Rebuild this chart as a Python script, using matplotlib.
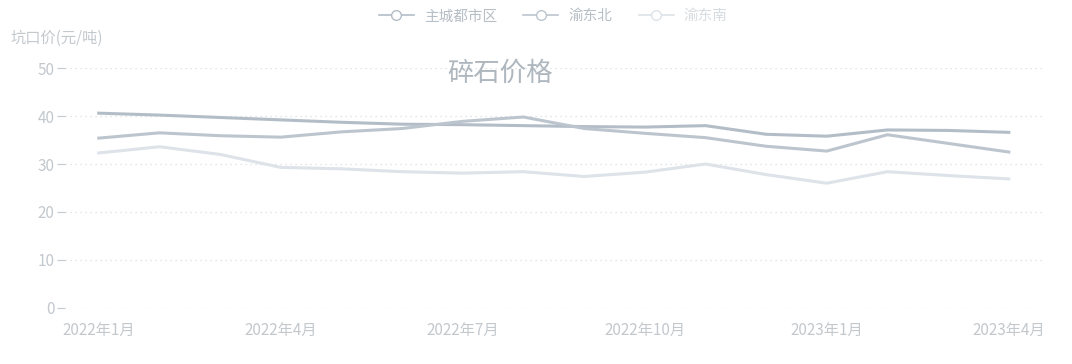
# coding=utf-8

import numpy as np
import matplotlib
matplotlib.use('Agg')
import matplotlib.pyplot as plt

plt.rcParams['font.family'] = ['Noto Sans CJK SC', 'DejaVu Sans']

# monthly pithead price of crushed stone, Jan 2022 .. Apr 2023
months = ['2022年1月', '2022年2月', '2022年3月', '2022年4月', '2022年5月', '2022年6月',
          '2022年7月', '2022年8月', '2022年9月', '2022年10月', '2022年11月', '2022年12月',
          '2023年1月', '2023年2月', '2023年3月', '2023年4月']

zhucheng = [40.6, 40.2, 39.7, 39.2, 38.7, 38.3, 38.2, 38.0,
            37.8, 37.7, 38.0, 36.2, 35.8, 37.1, 37.0, 36.6]
yudongbei = [35.4, 36.5, 35.9, 35.6, 36.7, 37.4, 38.9, 39.8,
             37.4, 36.4, 35.5, 33.7, 32.7, 36.1, 34.3, 32.5]
yudongnan = [32.3, 33.6, 32.0, 29.3, 29.0, 28.4, 28.1, 28.4,
             27.4, 28.3, 30.0, 27.8, 26.0, 28.4, 27.6, 26.9]

series_names = ['主城都市区', '渝东北', '渝东南']
y_ticks = [0, 10, 20, 30, 40, 50]

TEXT_COLOR = '#c3c8cd'
LINE_COLORS = ['#b3bdc7', '#bcc5ce', '#dde3e8']

fig = plt.figure(figsize=(10.72, 3.64), dpi=100)
ax = fig.add_axes([0.061, 0.154, 0.914, 0.659])

x = np.arange(len(months))
for values, name, color in zip([zhucheng, yudongbei, yudongnan], series_names, LINE_COLORS):
    ax.plot(x, values, color=color, linewidth=2.2, label=name,
            marker='o', markersize=7, markerfacecolor='white',
            markeredgecolor=color, markevery=[])

ax.set_xlim(-0.55, 15.6)
ax.set_ylim(0, 50)
ax.set_yticks(y_ticks)
ax.set_xticks(x[::3])
ax.set_xticklabels(months[::3])

ax.grid(axis='y', color='#d9dde1', linestyle=(0, (1, 3)), linewidth=0.9)
ax.set_axisbelow(True)
for side in ['top', 'right', 'left', 'bottom']:
    ax.spines[side].set_visible(False)

ax.tick_params(axis='y', colors=TEXT_COLOR, labelsize=11, length=6, width=0.8, pad=2)
ax.tick_params(axis='x', colors=TEXT_COLOR, labelsize=11, length=0, pad=10)

fig.text(0.01, 0.895, '坑口价(元/吨)', color=TEXT_COLOR, fontsize=11, ha='left', va='center')
fig.text(0.466, 0.80, '碎石价格', color='#aeb6be', fontsize=19, ha='center', va='center')

leg = fig.legend(loc='center', bbox_to_anchor=(0.516, 0.955), ncol=3, frameon=False,
                 fontsize=10.5, numpoints=1, handlelength=2.4, columnspacing=1.8,
                 handletextpad=0.7)
for text, color in zip(leg.get_texts(), ['#b6bec6', '#b6bec6', '#d6dce1']):
    text.set_color(color)
for handle in leg.legend_handles:
    handle.set_markevery([1])
    handle.set_linewidth(1.2)

fig.savefig('out.png', dpi=100)
